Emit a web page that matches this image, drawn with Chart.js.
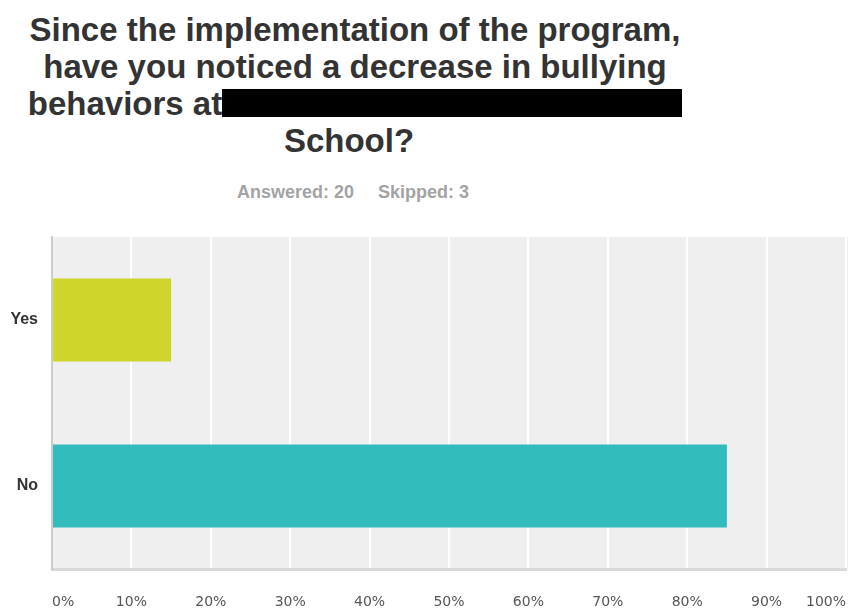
<!DOCTYPE html>
<html>
<head>
<meta charset="utf-8">
<script src="https://cdn.jsdelivr.net/npm/chart.js@4.4.1/dist/chart.umd.min.js"></script>
<style>
    body { margin: 0; background: #fff; }
    #wrap { position: relative; width: 848px; height: 609px; overflow: hidden; }
    #title {
        position: absolute; left: 0; top: 11px; width: 710px;
        text-align: center; color: #333;
        font: bold 33px/37px "Liberation Sans", Arial, sans-serif;
    }
    #title .redact { display: inline-block; width: 460px; height: 28px; background: #000; vertical-align: -2px; }
    #title .last { margin-right: 12px; }
    #meta {
        position: absolute; left: 0; top: 182px; width: 706px;
        text-align: center; color: #a3a3a3;
        font: bold 18px "Liberation Sans", Arial, sans-serif;
    }
    #meta span + span { margin-left: 24px; }
    #chartBox { position: absolute; left: 0; top: 0; width: 848px; height: 609px; }
</style>
</head>
<body>
<div id="wrap">
    <div id="title">Since the implementation of the program,<br>have you noticed a decrease in bullying<br>behaviors at<span class="redact"></span><br><span class="last">School?</span></div>
    <div id="meta"><span>Answered: 20</span><span>Skipped: 3</span></div>
    <div id="chartBox"><canvas id="surveyChart"></canvas></div>
</div>
<script>
const answers = ['Yes', 'No'];
const percentages = [15, 85];
const barColors = ['#cfd52a', '#33bcbe'];
const xTicks = [0, 10, 20, 30, 40, 50, 60, 70, 80, 90, 100];

// grey plot background behind the bars
const plotBackground = {
    id: 'plotBackground',
    beforeDraw(chart) {
        const { ctx, chartArea } = chart;
        ctx.save();
        ctx.fillStyle = '#efefef';
        ctx.fillRect(chartArea.left, chartArea.top, chartArea.right - chartArea.left + 2, chartArea.bottom - chartArea.top);
        ctx.restore();
    }
};

document.addEventListener('DOMContentLoaded', function () {
    const ctx = document.getElementById('surveyChart').getContext('2d');
    new Chart(ctx, {
        type: 'bar',
        data: {
            labels: answers,
            datasets: [{
                data: percentages,
                backgroundColor: barColors,
                barPercentage: 0.5,
                categoryPercentage: 1
            }]
        },
        options: {
            indexAxis: 'y',
            responsive: true,
            maintainAspectRatio: false,
            animation: false,
            layout: { padding: { top: 237, right: 2, left: 0, bottom: 0 } },
            plugins: {
                legend: { display: false },
                tooltip: { enabled: false }
            },
            scales: {
                x: {
                    min: 0,
                    max: 100,
                    afterBuildTicks(axis) {
                        axis.ticks = xTicks.map(v => ({ value: v }));
                    },
                    afterFit(axis) {
                        axis.height = 40;
                        axis.paddingLeft = 0;
                        axis.paddingRight = 0;
                    },
                    grid: { color: '#ffffff', lineWidth: 2, drawTicks: false },
                    border: { color: '#d9d9d9', width: 3 },
                    ticks: {
                        align: 'inner',
                        padding: 25,
                        color: '#555',
                        font: { family: 'DejaVu Sans', size: 14 },
                        callback: v => v + '%'
                    }
                },
                y: {
                    afterFit(axis) { axis.width = 52; },
                    grid: { display: false, drawTicks: false },
                    border: { color: '#cccccc', width: 2 },
                    ticks: {
                        padding: 14,
                        color: '#333',
                        font: { family: 'Liberation Sans', size: 16, weight: 'bold' }
                    }
                }
            }
        },
        plugins: [plotBackground]
    });
});
</script>
</body>
</html>
